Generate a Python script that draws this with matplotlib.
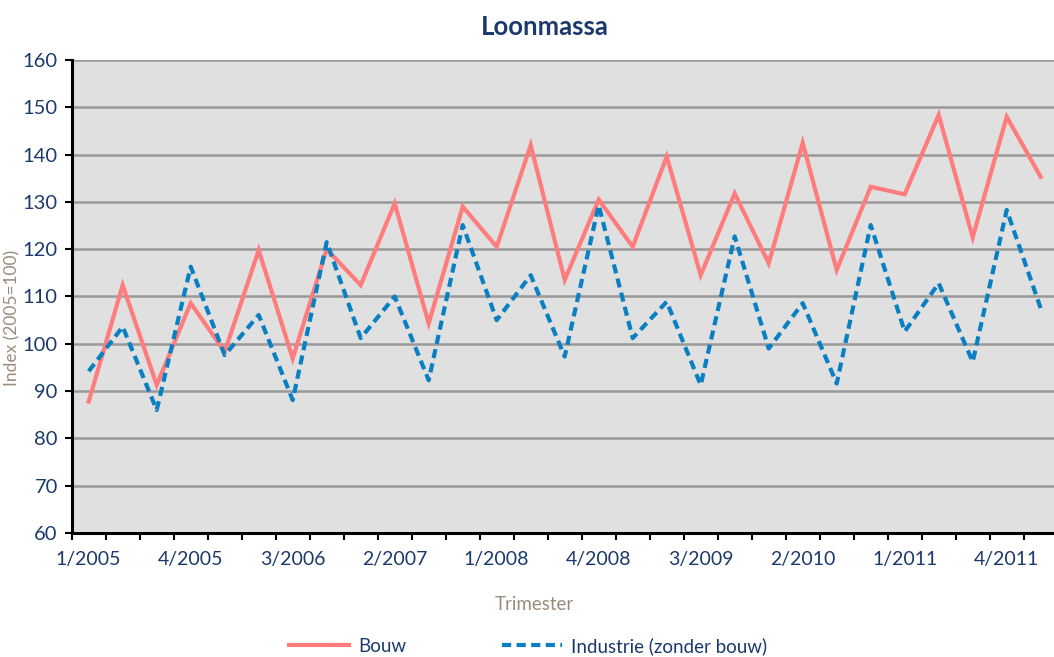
import numpy as np
import matplotlib.pyplot as plt
from matplotlib.lines import Line2D

plt.rcParams['font.family'] = ['Lato', 'DejaVu Sans']

# quarters 1/2005 .. 1/2012
quarters = ['%d/%d' % (q, y) for y in range(2005, 2013) for q in range(1, 5)][:29]
bouw = [87.8, 112.4, 91.3, 108.6, 98.3, 119.8, 96.9, 120.0, 112.4, 129.7,
        104.3, 129.0, 120.5, 142.0, 113.5, 130.5, 120.5, 139.6, 114.5, 131.8,
        117.0, 142.5, 115.6, 133.2, 131.6, 148.4, 122.5, 148.0, 135.3]
industrie = [94.2, 103.6, 86.0, 116.3, 97.6, 106.1, 88.1, 121.5, 101.2, 110.0,
             92.3, 125.1, 105.0, 114.5, 97.3, 129.3, 101.2, 108.9, 91.3, 122.7,
             99.0, 108.6, 91.6, 125.1, 102.6, 112.8, 96.2, 128.3, 107.5]

TXT = '#1b3a6b'
AXT = '#9a8c7c'

W, H = 1054, 657
fig = plt.figure(figsize=(W / 100, H / 100), dpi=100)
ax = fig.add_axes([71.7 / W, 1 - 533 / H, (1057.7 - 71.7) / W, (533 - 60) / H])
ax.set_facecolor('#e0e0e0')

x = np.arange(len(quarters))
ax.plot(x, bouw, color='#ff7c7c', lw=3, solid_joinstyle='miter', zorder=3)
ax.plot(x, industrie, color='#0a7fc2', lw=3, dashes=(2.2, 1.3), zorder=3)

ax.set_xlim(-0.5, len(quarters) - 0.5)
ax.set_ylim(60, 160)
ax.set_yticks(np.arange(60, 161, 10))
ax.yaxis.grid(True, color='#999999', lw=1.8)
ax.set_axisbelow(True)

ax.set_xticks(x[::3])
ax.set_xticklabels(quarters[::3])
ax.set_xticks(np.arange(-0.5, len(quarters)), minor=True)
ax.tick_params(axis='x', which='major', length=0, pad=13, labelsize=14, labelcolor=TXT)
ax.tick_params(axis='x', which='minor', length=5, width=1.5, direction='out')
ax.tick_params(axis='y', length=5, width=1.5, pad=5, labelsize=14.5, labelcolor=TXT)

for s in ['top', 'right']:
    ax.spines[s].set_visible(False)
for s in ['left', 'bottom']:
    ax.spines[s].set_linewidth(2.2)
    ax.spines[s].set_color('black')

fig.text(545 / W, 1 - 27 / H, 'Loonmassa', ha='center', va='center',
         fontsize=18.5, fontweight='bold', color=TXT)
fig.text(12 / W, 1 - 318 / H, 'Index (2005=100)', rotation=90, ha='center',
         va='center', fontsize=12.5, color=AXT)
fig.text(534 / W, 1 - 604 / H, 'Trimester', ha='center', va='center',
         fontsize=13.5, color=AXT)

handles = [Line2D([], [], color='#ff7c7c', lw=3),
           Line2D([], [], color='#0a7fc2', lw=3, dashes=(2.2, 1.3))]
leg = fig.legend(handles, ['Bouw', 'Industrie (zonder bouw)'], ncol=2,
                 loc='center', bbox_to_anchor=(528 / W, 1 - 646 / H),
                 frameon=False, fontsize=13.5, handlelength=3.2,
                 columnspacing=5.1, handletextpad=0.5)
for t in leg.get_texts():
    t.set_color(TXT)

fig.savefig('out.png', dpi=100)
